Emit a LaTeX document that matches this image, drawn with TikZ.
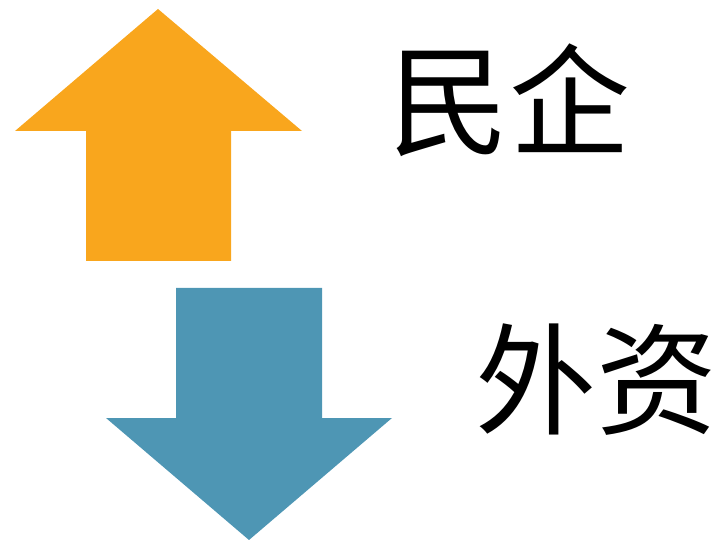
\documentclass[tikz,border=0pt]{standalone}
\usepackage{fontspec}
\newfontfamily\cjk{Noto Sans CJK SC}
\definecolor{upcolor}{RGB}{249,166,29}
\definecolor{downcolor}{RGB}{78,150,180}
\begin{document}
\begin{tikzpicture}[x=1pt, y=-1pt, label/.style={inner sep=0pt, font=\cjk\fontsize{121}{121}\selectfont}]
        % рамка
        \useasboundingbox ( 0, 0 ) rectangle ( 721, 540 );

        % стрелка вверх
        \fill [upcolor] ( 158, 9 ) -- ( 302, 131 ) -- ( 231, 131 ) -- ( 231, 261 ) -- ( 86, 261 ) -- ( 86, 131 ) -- ( 15, 131 ) -- cycle;

        % стрелка вниз
        \fill [downcolor] ( 176, 288 ) -- ( 322, 288 ) -- ( 322, 418 ) -- ( 392, 418 ) -- ( 249, 540 ) -- ( 106, 418 ) -- ( 176, 418 ) -- cycle;

        % подписи
        \node [label] (private) at ( 509, 100 ) {民企};
        \node [label] (foreign) at ( 596, 380 ) {外资};
    \end{tikzpicture}
\end{document}
